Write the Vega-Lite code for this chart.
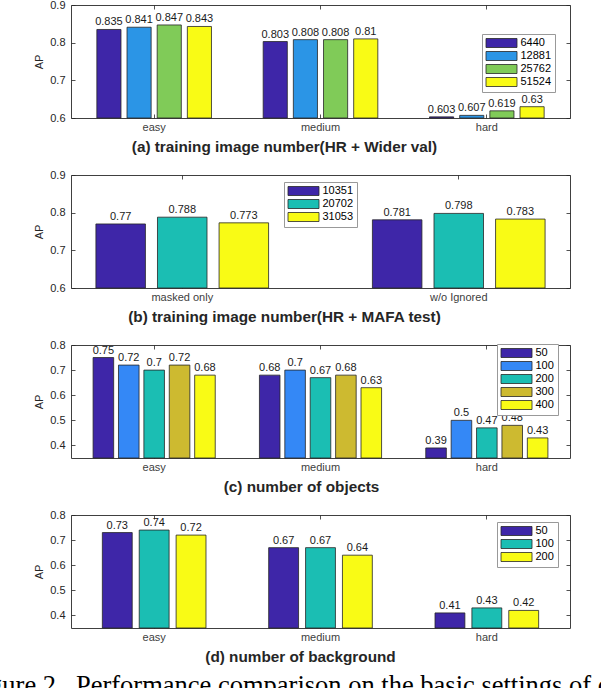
{
  "$schema": "https://vega.github.io/schema/vega-lite/v6.json",
  "background": "white",
  "padding": {"left": -33, "top": -2, "right": -125, "bottom": -12},
  "bounds": "flush",
  "spacing": 57,
  "resolve": {"scale": {"x": "independent", "y": "independent", "xOffset": "independent", "color": "independent"}, "legend": {"color": "independent"}},
  "title": {
    "text": "Figure 2.\u00a0 Performance comparison on the basic settings of our method.",
    "orient": "bottom", "anchor": "start", "frame": "group", "dx": -104, "offset": 8,
    "font": "Liberation Serif", "fontSize": 26.5, "fontWeight": "normal", "color": "#000000"
  },
  "datasets": {
    "a": [
      {"set": "easy", "n": "6440", "ap": 0.835}, {"set": "easy", "n": "12881", "ap": 0.841}, {"set": "easy", "n": "25762", "ap": 0.847}, {"set": "easy", "n": "51524", "ap": 0.843},
      {"set": "medium", "n": "6440", "ap": 0.803}, {"set": "medium", "n": "12881", "ap": 0.808}, {"set": "medium", "n": "25762", "ap": 0.808}, {"set": "medium", "n": "51524", "ap": 0.81},
      {"set": "hard", "n": "6440", "ap": 0.603}, {"set": "hard", "n": "12881", "ap": 0.607}, {"set": "hard", "n": "25762", "ap": 0.619}, {"set": "hard", "n": "51524", "ap": 0.63}
    ],
    "b": [
      {"set": "masked only", "n": "10351", "ap": 0.77}, {"set": "masked only", "n": "20702", "ap": 0.788}, {"set": "masked only", "n": "31053", "ap": 0.773},
      {"set": "w/o Ignored", "n": "10351", "ap": 0.781}, {"set": "w/o Ignored", "n": "20702", "ap": 0.798}, {"set": "w/o Ignored", "n": "31053", "ap": 0.783}
    ],
    "c": [
      {"set": "easy", "n": "50", "ap": 0.75}, {"set": "easy", "n": "100", "ap": 0.72}, {"set": "easy", "n": "200", "ap": 0.7}, {"set": "easy", "n": "300", "ap": 0.72}, {"set": "easy", "n": "400", "ap": 0.68},
      {"set": "medium", "n": "50", "ap": 0.68}, {"set": "medium", "n": "100", "ap": 0.7}, {"set": "medium", "n": "200", "ap": 0.67}, {"set": "medium", "n": "300", "ap": 0.68}, {"set": "medium", "n": "400", "ap": 0.63},
      {"set": "hard", "n": "50", "ap": 0.39}, {"set": "hard", "n": "100", "ap": 0.5}, {"set": "hard", "n": "200", "ap": 0.47}, {"set": "hard", "n": "300", "ap": 0.48}, {"set": "hard", "n": "400", "ap": 0.43}
    ],
    "d": [
      {"set": "easy", "n": "50", "ap": 0.73}, {"set": "easy", "n": "100", "ap": 0.74}, {"set": "easy", "n": "200", "ap": 0.72},
      {"set": "medium", "n": "50", "ap": 0.67}, {"set": "medium", "n": "100", "ap": 0.67}, {"set": "medium", "n": "200", "ap": 0.64},
      {"set": "hard", "n": "50", "ap": 0.41}, {"set": "hard", "n": "100", "ap": 0.43}, {"set": "hard", "n": "200", "ap": 0.42}
    ]
  },
  "config": {
    "font": "Liberation Sans",
    "view": {"stroke": "#404040", "strokeWidth": 1},
    "axis": {"grid": false, "domain": false, "ticks": true, "tickSize": -4, "tickColor": "#262626", "tickWidth": 0.8,
             "labelFont": "Liberation Sans", "labelFontSize": 11, "titleFont": "Liberation Sans", "titleColor": "#262626"},
    "axisX": {"labelAngle": 0, "labelPadding": 7, "labelColor": "#404040", "titleFontSize": 15.3, "titleFontWeight": "bold", "titlePadding": 7},
    "axisY": {"labelPadding": 10, "labelColor": "#262626", "titleFontSize": 11, "titleFontWeight": "normal", "titlePadding": 5},
    "legend": {"orient": "none", "symbolType": "M-1,-0.9H5.2V0.9H-1Z", "symbolSize": 100, "symbolStrokeColor": "#262626", "symbolStrokeWidth": 0.8,
               "symbolOpacity": 1, "labelOffset": 24, "labelFont": "Liberation Sans", "labelFontSize": 11, "labelColor": "#000000",
               "fillColor": "#ffffff", "strokeColor": "#999999", "padding": 3.5, "rowPadding": 0},
    "text": {"font": "Liberation Sans"}
  },
  "vconcat": [
    {
      "width": 499, "height": 113,
      "data": {"name": "a"},
      "encoding": {
        "x": {"field": "set", "type": "nominal", "sort": ["easy", "medium", "hard"], "scale": {"paddingInner": 0, "paddingOuter": 0},
              "axis": {"title": "(a) training image number(HR + Wider val)", "orient": "bottom", "titleX": 213}},
        "xOffset": {"field": "n", "type": "nominal", "sort": ["6440", "12881", "25762", "51524"], "scale": {"paddingInner": 0.2, "paddingOuter": 0.857}},
        "y": {"field": "ap", "type": "quantitative", "scale": {"domain": [0.6, 0.9], "nice": false, "zero": false},
              "axis": {"title": "AP", "values": [0.6, 0.7, 0.8, 0.9], "format": ".1f", "orient": "left"}}
      },
      "layer": [
        {"mark": {"type": "bar", "stroke": "#262626", "strokeWidth": 0.8},
         "encoding": {"y2": {"datum": 0.6},
                      "color": {"field": "n", "type": "nominal",
                                "scale": {"domain": ["6440", "12881", "25762", "51524"], "range": ["#3E26A8", "#2B95E6", "#80CB58", "#F9FB15"]},
                                "legend": {"title": null, "legendX": 411, "legendY": 29}}}},
        {"mark": {"type": "text", "baseline": "alphabetic", "dy": -4, "fontSize": 11, "color": "#1a1a1a"},
         "encoding": {"text": {"field": "ap", "type": "quantitative", "format": "~g"},
                      "x": {"field": "set", "type": "nominal", "sort": ["easy", "medium", "hard"], "axis": {"orient": "top", "labels": false, "title": null}},
                      "y": {"field": "ap", "type": "quantitative", "axis": {"orient": "right", "labels": false, "title": null, "values": [0.6, 0.7, 0.8, 0.9]}}}}
      ],
      "resolve": {"axis": {"x": "independent", "y": "independent"}}
    },
    {
      "width": 499, "height": 113,
      "data": {"name": "b"},
      "encoding": {
        "x": {"field": "set", "type": "nominal", "sort": ["masked only", "w/o Ignored"], "scale": {"paddingInner": 0, "paddingOuter": 0, "range": [-27, 526]},
              "axis": {"title": "(b) training image number(HR + MAFA test)", "orient": "bottom", "titleX": 213}},
        "xOffset": {"field": "n", "type": "nominal", "sort": ["10351", "20702", "31053"], "scale": {"paddingInner": 0.196, "paddingOuter": 0.843}},
        "y": {"field": "ap", "type": "quantitative", "scale": {"domain": [0.6, 0.9], "nice": false, "zero": false},
              "axis": {"title": "AP", "values": [0.6, 0.7, 0.8, 0.9], "format": ".1f", "orient": "left"}}
      },
      "layer": [
        {"mark": {"type": "bar", "stroke": "#262626", "strokeWidth": 0.8},
         "encoding": {"y2": {"datum": 0.6},
                      "color": {"field": "n", "type": "nominal",
                                "scale": {"domain": ["10351", "20702", "31053"], "range": ["#3E26A8", "#1BBEB3", "#F9FB15"]},
                                "legend": {"title": null, "legendX": 213, "legendY": 7}}}},
        {"mark": {"type": "text", "baseline": "alphabetic", "dy": -4, "fontSize": 11, "color": "#1a1a1a"},
         "encoding": {"text": {"field": "ap", "type": "quantitative", "format": "~g"},
                      "x": {"field": "set", "type": "nominal", "sort": ["masked only", "w/o Ignored"], "axis": {"orient": "top", "labels": false, "title": null}},
                      "y": {"field": "ap", "type": "quantitative", "axis": {"orient": "right", "labels": false, "title": null, "values": [0.6, 0.7, 0.8, 0.9]}}}}
      ],
      "resolve": {"axis": {"x": "independent", "y": "independent"}}
    },
    {
      "width": 499, "height": 113,
      "data": {"name": "c"},
      "encoding": {
        "x": {"field": "set", "type": "nominal", "sort": ["easy", "medium", "hard"], "scale": {"paddingInner": 0, "paddingOuter": 0},
              "axis": {"title": "(c) number of objects", "orient": "bottom", "titleX": 230}},
        "xOffset": {"field": "n", "type": "nominal", "sort": ["50", "100", "200", "300", "400"], "scale": {"paddingInner": 0.19, "paddingOuter": 0.87}},
        "y": {"field": "ap", "type": "quantitative", "scale": {"domain": [0.35, 0.8], "nice": false, "zero": false},
              "axis": {"title": "AP", "values": [0.4, 0.5, 0.6, 0.7, 0.8], "format": ".1f", "orient": "left"}}
      },
      "layer": [
        {"mark": {"type": "bar", "stroke": "#262626", "strokeWidth": 0.8},
         "encoding": {"y2": {"datum": 0.35},
                      "color": {"field": "n", "type": "nominal",
                                "scale": {"domain": ["50", "100", "200", "300", "400"], "range": ["#3E26A8", "#3488F6", "#1BBEB3", "#CDBA30", "#F9FB15"]},
                                "legend": {"title": null, "legendX": 426, "legendY": -1}}}},
        {"mark": {"type": "text", "baseline": "alphabetic", "dy": -4, "fontSize": 11, "color": "#1a1a1a"},
         "encoding": {"text": {"field": "ap", "type": "quantitative", "format": "~g"},
                      "x": {"field": "set", "type": "nominal", "sort": ["easy", "medium", "hard"], "axis": {"orient": "top", "labels": false, "title": null}},
                      "y": {"field": "ap", "type": "quantitative", "axis": {"orient": "right", "labels": false, "title": null, "values": [0.4, 0.5, 0.6, 0.7, 0.8]}}}}
      ],
      "resolve": {"axis": {"x": "independent", "y": "independent"}}
    },
    {
      "width": 499, "height": 113,
      "data": {"name": "d"},
      "encoding": {
        "x": {"field": "set", "type": "nominal", "sort": ["easy", "medium", "hard"], "scale": {"paddingInner": 0, "paddingOuter": 0},
              "axis": {"title": "(d) number of background", "orient": "bottom", "titleX": 229}},
        "xOffset": {"field": "n", "type": "nominal", "sort": ["50", "100", "200"], "scale": {"paddingInner": 0.19, "paddingOuter": 0.85}},
        "y": {"field": "ap", "type": "quantitative", "scale": {"domain": [0.35, 0.8], "nice": false, "zero": false},
              "axis": {"title": "AP", "values": [0.4, 0.5, 0.6, 0.7, 0.8], "format": ".1f", "orient": "left"}}
      },
      "layer": [
        {"mark": {"type": "bar", "stroke": "#262626", "strokeWidth": 0.8},
         "encoding": {"y2": {"datum": 0.35},
                      "color": {"field": "n", "type": "nominal",
                                "scale": {"domain": ["50", "100", "200"], "range": ["#3E26A8", "#1BBEB3", "#F9FB15"]},
                                "legend": {"title": null, "legendX": 426, "legendY": 7}}}},
        {"mark": {"type": "text", "baseline": "alphabetic", "dy": -4, "fontSize": 11, "color": "#1a1a1a"},
         "encoding": {"text": {"field": "ap", "type": "quantitative", "format": "~g"},
                      "x": {"field": "set", "type": "nominal", "sort": ["easy", "medium", "hard"], "axis": {"orient": "top", "labels": false, "title": null}},
                      "y": {"field": "ap", "type": "quantitative", "axis": {"orient": "right", "labels": false, "title": null, "values": [0.4, 0.5, 0.6, 0.7, 0.8]}}}}
      ],
      "resolve": {"axis": {"x": "independent", "y": "independent"}}
    }
  ]
}
